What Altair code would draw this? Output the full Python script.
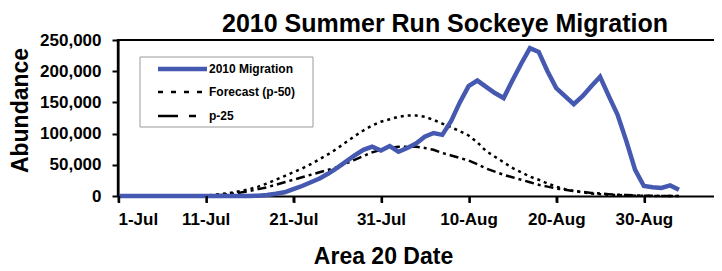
import altair as alt
import pandas as pd

# ---- data ----
chart_title = "2010 Summer Run Sockeye Migration"
tick_days = [0, 10, 20, 30, 40, 50, 60]
tick_labels = ["1-Jul", "11-Jul", "21-Jul", "31-Jul", "10-Aug", "20-Aug", "30-Aug"]
y_ticks = [0, 50000, 100000, 150000, 200000, 250000]
y_tick_labels = ["0", "50,000", "100,000", "150,000", "200,000", "250,000"]

migration_days = list(range(0, 65))
migration_2010 = [
    0, 0, 0, 0, 0, 0, 0, 0, 0, 0,
    0, 0, 0, 0, 0, 0, 500, 1500, 3500, 6000,
    11000, 16000, 22000, 28000, 36000, 45000, 55000, 65000, 74000, 79000,
    73000, 80000, 71000, 77000, 84000, 95000, 101000, 98000, 120000, 150000,
    176000, 185000, 175000, 165000, 157000, 185000, 212000, 237000, 231000, 200000,
    173000, 160000, 147000, 160000, 176000, 191000, 160000, 130000, 88000, 42000,
    16000, 14000, 13000, 17000, 10000,
]

forecast_days = list(range(0, 65))
forecast_p50 = [
    0, 0, 0, 0, 0, 0, 0, 0, 0, 300,
    1000, 2000, 3500, 5500, 8000, 11000, 15000, 20000, 26000, 32000,
    38000, 44000, 51000, 59000, 67000, 76000, 86000, 96000, 105000, 113000,
    119000, 123000, 127000, 129000, 129000, 127000, 122000, 116000, 110000, 104000,
    97000, 86000, 72000, 63000, 54000, 45000, 38000, 31000, 26000, 20000,
    15000, 11000, 8000, 6000, 4000, 3000, 2000, 1500, 1000, 600,
    300, 100, 0, 0, 0,
]

p25_days = list(range(0, 65))
p25 = [
    0, 0, 0, 0, 0, 0, 0, 0, 0, 0,
    0, 1000, 2000, 3500, 5500, 8000, 11000, 14000, 18000, 22000,
    26000, 30000, 34000, 38000, 42000, 46000, 52000, 58000, 64000, 70000,
    74000, 77000, 79000, 79000, 79000, 77000, 74000, 69000, 65000, 61000,
    57000, 51000, 44000, 39000, 34000, 30000, 26000, 22000, 18000, 15000,
    12000, 10000, 8000, 6500, 5000, 4000, 3000, 2000, 1500, 1000,
    600, 300, 100, 0, 0,
]

legend_labels = ["2010 Migration", "Forecast (p-50)", "p-25"]

FONT = "Liberation Sans"
BLUE = "#4559B0"

df_mig = pd.DataFrame({"day": migration_days, "abundance": migration_2010})
df_p50 = pd.DataFrame({"day": forecast_days, "abundance": forecast_p50})
df_p25 = pd.DataFrame({"day": p25_days, "abundance": p25})
df_top = pd.DataFrame({"abundance": [max(y_ticks)]})
df_xticks = pd.DataFrame({"day": tick_days})
df_title = pd.DataFrame({"t": [chart_title]})


def js_list(items):
    return "[" + ",".join("'%s'" % t for t in items) + "]"


common_axis = dict(
    domain=True,
    domainColor="black",
    domainWidth=2,
    ticks=True,
    tickColor="black",
    tickWidth=2,
    tickSize=6,
    labelFont=FONT,
    labelFontWeight="bold",
    labelColor="black",
    labelFontSize=17,
    titleFont=FONT,
    titleFontWeight="bold",
    titleColor="black",
    grid=False,
)

x_axis = alt.Axis(
    values=tick_days,
    labelExpr=js_list(tick_labels) + "[round(datum.value / 10)]",
    title="Area 20 Date",
    titleX=265,
    titleY=60,
    titleBaseline="middle",
    titleAlign="center",
    titleFontSize=23,
    labelPadding=9,
    **common_axis,
)
y_axis = alt.Axis(
    values=y_ticks,
    labelExpr=js_list(y_tick_labels) + "[round(datum.value / 50000)]",
    title="Abundance",
    titleX=-98,
    titleY=70,
    titleAngle=270,
    titleBaseline="middle",
    titleAlign="center",
    titleFontSize=23,
    labelPadding=11,
    **common_axis,
)

x_scale = alt.Scale(domain=[0, 68], nice=False, zero=False)
y_scale = alt.Scale(domain=[0, 250000], nice=False)

x_enc = alt.X("day:Q", scale=x_scale, axis=x_axis)
y_enc = alt.Y("abundance:Q", scale=y_scale, axis=y_axis)

p50_line = alt.Chart(df_p50).mark_line(
    color="black", strokeWidth=2.5, strokeDash=[3, 4]
).encode(x=x_enc, y=y_enc)

p25_line = alt.Chart(df_p25).mark_line(
    color="black", strokeWidth=2.5, strokeDash=[9, 4, 3, 4]
).encode(x=x_enc, y=y_enc)

mig_line = alt.Chart(df_mig).mark_line(
    color=BLUE, strokeWidth=4.5, strokeJoin="miter"
).encode(x=x_enc, y=y_enc)

# frame: top border, left axis line, x tick marks
top_rule = alt.Chart(df_top).mark_rule(
    color="black", strokeWidth=2
).encode(y=y_enc)

left_line = alt.Chart(df_top).mark_rect(color="black", opacity=1).encode(
    x=alt.value(-1.2), x2=alt.value(1.2), y=alt.value(-1), y2=alt.value(157)
)

x_tick_marks = alt.Chart(df_xticks).mark_rect(color="black", opacity=1).encode(
    x=x_enc, x2=alt.X2("day2:Q"), y=alt.value(156), y2=alt.value(163)
).transform_calculate(day2="datum.day + 0.25")

title_text = alt.Chart(df_title).mark_text(
    align="center", baseline="alphabetic", font=FONT, fontWeight="bold",
    fontSize=25, color="black"
).encode(x=alt.value(327), y=alt.value(-8), text="t:N")

# ---- manual legend ----
leg_box = alt.Chart(pd.DataFrame({"l": [0]})).mark_rect(
    fill="white", stroke="#9a9a9a", strokeWidth=1
).encode(x=alt.value(22), x2=alt.value(195), y=alt.value(17), y2=alt.value(87))

leg_rows = [29, 52, 76]
leg_styles = [
    dict(color=BLUE, strokeWidth=4.5),
    dict(color="black", strokeWidth=2.5, strokeDash=[5, 8]),
    dict(color="black", strokeWidth=2.5, strokeDash=[20, 11, 7, 11]),
]
leg_layers = [leg_box]
for lab, yy, st in zip(legend_labels, leg_rows, leg_styles):
    d = pd.DataFrame({"label": [lab]})
    leg_layers.append(
        alt.Chart(d).mark_rule(**st).encode(
            x=alt.value(40), x2=alt.value(89), y=alt.value(yy)
        )
    )
    leg_layers.append(
        alt.Chart(d).mark_text(
            align="left", baseline="middle", font=FONT, fontWeight="bold",
            fontSize=12, color="black"
        ).encode(x=alt.value(91), y=alt.value(yy), text="label:N")
    )

chart = alt.layer(
    p50_line, p25_line, mig_line, top_rule, left_line, x_tick_marks,
    title_text, *leg_layers
).properties(
    width=596,
    height=156,
    padding={"left": 110, "top": 32, "right": 0, "bottom": 71},
    autosize=alt.AutoSizeParams(type="none"),
).configure_view(
    stroke=None
).configure(background="white")

chart.save("out.html", embed_options={"renderer": "svg", "actions": False})
